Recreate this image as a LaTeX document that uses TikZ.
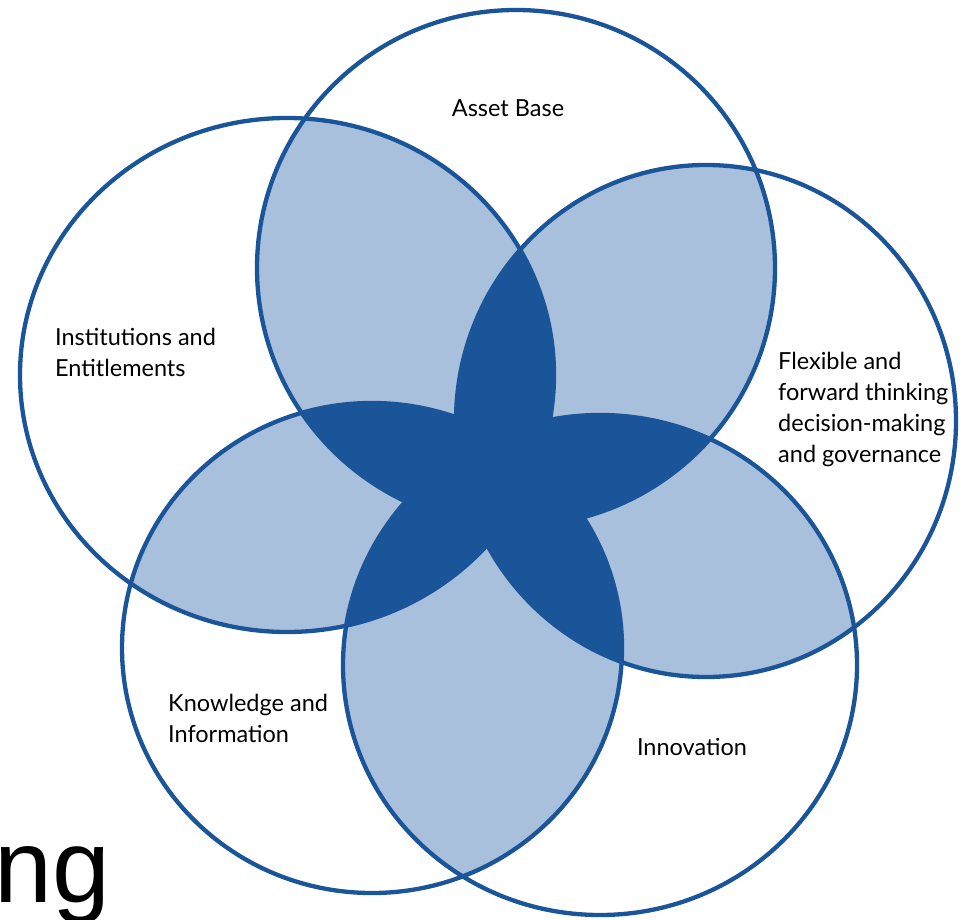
\documentclass[tikz,border=0pt]{standalone}
\usepackage{fontspec}
\setmainfont{Lato}
\newfontfamily\arialfont{Liberation Sans}
\definecolor{ringblue}{HTML}{1A5599}
\definecolor{lightblue}{HTML}{A9C0DD}
\definecolor{darkblue}{HTML}{1A5599}
\tikzset{
  ring/.style={draw=ringblue, line width=4.3pt},
  lbl/.style={inner sep=0pt, align=left, font=\fontsize{23.5}{31}\selectfont, text=black},
}
% the five rings (centre, horizontal and vertical radius)
\def\shpA{(516,268) ellipse [x radius=259, y radius=258]}
\def\shpI{(287,375) ellipse [x radius=267, y radius=257]}
\def\shpF{(706,421) ellipse [x radius=250, y radius=256]}
\def\shpK{(372,648) ellipse [x radius=250, y radius=245]}
\def\shpN{(600,665) ellipse [x radius=257, y radius=250]}
\newcommand\shp[1]{\csname shp#1\endcsname}
\begin{document}
\begin{tikzpicture}[x=1pt,y=-1pt]
\useasboundingbox (0,0) rectangle (963,920);
\fill[white] (0,0) rectangle (963,920);
% overlaps of two rings
\foreach \a/\b in {A/I,A/F,A/K,A/N,I/F,I/K,I/N,F/K,F/N,K/N}{
  \begin{scope}[fill=lightblue]
    \expandafter\expandafter\expandafter\clip\shp{\a};
    \expandafter\expandafter\expandafter\fill\shp{\b};
  \end{scope}
}
% overlaps of three rings
\foreach \a/\b/\c in {A/I/F,A/I/K,A/I/N,A/F/K,A/F/N,A/K/N,I/F/K,I/F/N,I/K/N,F/K/N}{
  \begin{scope}[fill=darkblue]
    \expandafter\expandafter\expandafter\clip\shp{\a};
    \expandafter\expandafter\expandafter\clip\shp{\b};
    \expandafter\expandafter\expandafter\fill\shp{\c};
  \end{scope}
}
% outlines
\foreach \c in {A,I,F,K,N}{
  \begin{scope}[ring]
    \expandafter\expandafter\expandafter\draw\shp{\c};
  \end{scope}
}
% multi-line labels: base anchor is the baseline of the last line
\node[lbl, anchor=base] (asset) at (508,117) {Asset Base};
\node[lbl, anchor=base west] (inst) at (55,376) {Institutions and\\Entitlements};
\node[lbl, anchor=base west] (flex) at (778,462) {Flexible and\\forward thinking\\decision-making\\and governance};
\node[lbl, anchor=base west] (know) at (168,742) {Knowledge and\\Information};
\node[lbl, anchor=base] (innov) at (692,755) {Innovation};
\node[inner sep=0pt, anchor=base west, font=\arialfont\fontsize{104}{104}\selectfont] (ng) at (-6,902) {ng};
\end{tikzpicture}
\end{document}
